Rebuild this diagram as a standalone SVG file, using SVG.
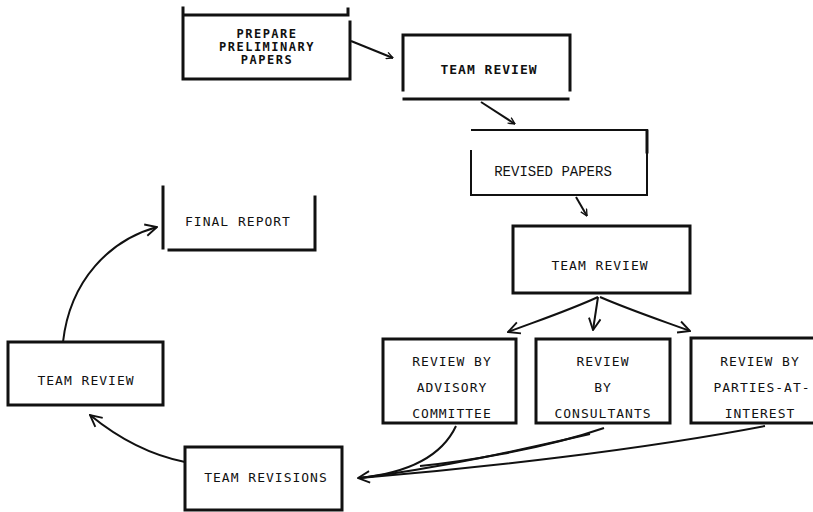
<svg xmlns="http://www.w3.org/2000/svg" width="813" height="512" viewBox="0 0 813 512">
<defs>
<style>
.b{fill:none;stroke:#111;stroke-width:3;stroke-linecap:square}
.t{fill:none;stroke:#111;stroke-width:2}
.c{fill:none;stroke:#111;stroke-width:2}
.tx{font-family:"DejaVu Sans Mono","Liberation Mono",monospace;font-size:13px;letter-spacing:1px;fill:#111;text-anchor:middle}
.tb{font-family:"DejaVu Sans Mono","Liberation Mono",monospace;font-size:13px;letter-spacing:1px;font-weight:bold;fill:#111;text-anchor:middle}
.tp{font-family:"DejaVu Sans Mono","Liberation Mono",monospace;font-size:12px;letter-spacing:1.5px;font-weight:bold;fill:#111;text-anchor:middle}
.ts{font-family:"Liberation Mono","Courier New",monospace;font-size:14px;fill:#111;text-anchor:middle}
</style>
<marker id="ah" viewBox="0 0 12 12" refX="11" refY="6" markerWidth="8" markerHeight="8" markerUnits="userSpaceOnUse" orient="auto">
<path d="M1,1 L11,6 L1,11" fill="none" stroke="#111" stroke-width="2"/>
</marker>
<marker id="ahl" viewBox="0 0 12 12" refX="11" refY="6" markerWidth="14" markerHeight="14" markerUnits="userSpaceOnUse" orient="auto">
<path d="M1,1 L11,6 L1,11" fill="none" stroke="#111" stroke-width="1.6"/>
</marker>
</defs>
<rect width="813" height="512" fill="#fff"/>

<g id="prepare">
<path class="b" d="M183,8 V79 H350 V22 M183,15 H348 V9"/>
<text class="tp" x="267" y="38">PREPARE</text>
<text class="tp" x="267" y="51">PRELIMINARY</text>
<text class="tp" x="267" y="64">PAPERS</text>
</g>

<g id="teamreview1">
<path class="b" d="M403,90 V35 H570 V90"/>
<path class="b" d="M404,99 H568"/>
<text class="tb" x="489" y="74">TEAM REVIEW</text>
</g>

<g id="revised">
<path class="t" d="M471,150 V195 H647 V130 H471"/>
<path class="b" d="M647,131 V152"/>
<text class="ts" x="553" y="176">REVISED  PAPERS</text>
</g>

<g id="teamreview2">
<rect class="b" x="513" y="226" width="177" height="67"/>
<text class="tx" x="600" y="270">TEAM REVIEW</text>
</g>

<g id="advisory">
<rect class="b" x="383" y="339" width="133" height="84"/>
<text class="tx" x="452" y="366">REVIEW BY</text>
<text class="tx" x="452" y="392">ADVISORY</text>
<text class="tx" x="452" y="418">COMMITTEE</text>
</g>

<g id="consultants">
<rect class="b" x="536" y="339" width="134" height="84"/>
<text class="tx" x="603" y="366">REVIEW</text>
<text class="tx" x="603" y="392">BY</text>
<text class="tx" x="603" y="418">CONSULTANTS</text>
</g>

<g id="parties">
<path class="b" d="M812,338 H691 V423 H812"/>
<text class="tx" x="760" y="366">REVIEW BY</text>
<text class="tx" x="762" y="392">PARTIES-AT-</text>
<text class="tx" x="760" y="418">INTEREST</text>
</g>

<g id="revisions">
<rect class="b" x="185" y="447" width="157" height="63"/>
<text class="tx" x="266" y="482">TEAM REVISIONS</text>
</g>

<g id="teamreview3">
<rect class="b" x="8" y="342" width="155" height="63"/>
<text class="tx" x="86" y="385">TEAM REVIEW</text>
</g>

<g id="final">
<path class="b" d="M163,187 V248"/>
<path class="b" d="M169,250 H315 V197"/>
<text class="tx" x="238" y="226">FINAL REPORT</text>
</g>

<g id="connectors">
<path class="c" d="M351,41 L393,58" marker-end="url(#ah)" stroke-width="2.5"/>
<path class="c" d="M481,102 L515,124" marker-end="url(#ah)"/>
<path class="c" d="M576,197 L587,216" marker-end="url(#ah)"/>
<path class="c" d="M598,297 C570,310 540,320 508,332" marker-end="url(#ahl)" stroke-width="1.5"/>
<path class="c" d="M598,297 L593,330" marker-end="url(#ahl)" stroke-width="1.5"/>
<path class="c" d="M600,297 C630,310 660,320 690,331" marker-end="url(#ahl)" stroke-width="1.5"/>
<path class="c" d="M456,426 C440,460 400,474 358,478" marker-end="url(#ahl)" stroke-width="1.5"/>
<path class="c" d="M604,428 C540,450 460,462 420,466" stroke-width="1.5"/>
<path class="c" d="M590,434 C520,450 440,468 360,478" stroke-width="1.5"/>
<path class="c" d="M765,426 C640,450 480,468 360,478" stroke-width="1.5"/>
<path class="c" d="M185,462 C150,455 118,438 90,415" marker-end="url(#ahl)" stroke-width="1.8"/>
<path class="c" d="M63,342 C70,280 110,240 157,227" marker-end="url(#ahl)" stroke-width="2.2"/>
</g>
</svg>
